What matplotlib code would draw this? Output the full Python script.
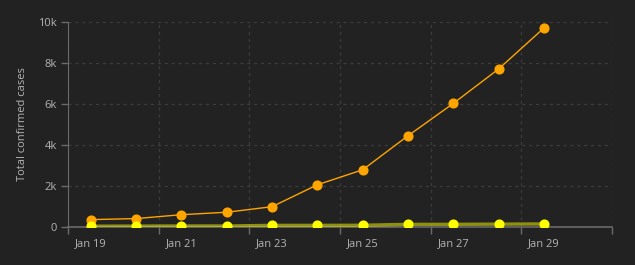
import matplotlib
matplotlib.use("Agg")
import matplotlib.pyplot as plt
from matplotlib.ticker import FixedLocator, FuncFormatter

dates = ["Jan 19", "Jan 20", "Jan 21", "Jan 22", "Jan 23", "Jan 24",
         "Jan 25", "Jan 26", "Jan 27", "Jan 28", "Jan 29"]
confirmed = [360, 410, 600, 720, 990, 2060, 2790, 4450, 6030, 7710, 9710]
other = [40, 45, 50, 50, 80, 80, 85, 130, 130, 140, 150]
y_ticks = [0, 2000, 4000, 6000, 8000, 10000]
y_label = "Total confirmed cases"

BG = "#222222"
TXT = "#b4b4b8"
AX = "#6a6a6a"
GRID = "#3c3c3c"

plt.rcParams['font.family'] = ['Open Sans', 'DejaVu Sans']

fig = plt.figure(figsize=(6.35, 2.65), dpi=100, facecolor=BG)
ax = fig.add_axes([68/635, (265-227)/265, (612-68)/635, (227-22)/265])
ax.set_facecolor(BG)

x = list(range(len(dates)))
ax.plot(x, confirmed, color="#FFA500", lw=1.0, marker="o", ms=6.3,
        mfc="#FFA500", mec="#FFA500", zorder=4)
ax.plot(x, other, color="#FFFF00", lw=2.4, alpha=0.5, zorder=3)
ax.plot(x, other, color="#FFFF00", lw=0, marker="o", ms=6.3,
        mfc="#FFFF00", mec="#FFFF00", zorder=5)

ax.set_xlim(-0.5, len(dates) + 0.5)
ax.set_ylim(0, 10000)

major = [-0.5 + 2*i for i in range(7)]
ax.xaxis.set_major_locator(FixedLocator(major))
ax.xaxis.set_major_formatter(FuncFormatter(lambda v, p: ""))
minor = list(range(0, len(dates), 2))
ax.xaxis.set_minor_locator(FixedLocator(minor))
ax.xaxis.set_minor_formatter(FuncFormatter(lambda v, p: dates[int(round(v))]))
ax.tick_params(axis="x", which="major", length=5, color=AX, width=1)
ax.tick_params(axis="x", which="minor", length=0, pad=8, labelsize=8, labelcolor=TXT)

ax.set_yticks(y_ticks)
ax.yaxis.set_major_formatter(FuncFormatter(lambda v, p: "0" if v == 0 else f"{int(v/1000)}k"))
ax.tick_params(axis="y", length=5, color=AX, width=1, labelsize=8, labelcolor=TXT, pad=3)

ax.grid(True, which="major", axis="both", color=GRID, ls=(0, (2.5, 3)), lw=0.9)

for s in ["top", "right"]:
    ax.spines[s].set_visible(False)
ax.spines["left"].set_color(AX)
ax.spines["bottom"].set_color(AX)
ax.spines["bottom"].set_linewidth(1.2)

ax.set_ylabel(y_label, color=TXT, fontsize=8, labelpad=7)

fig.savefig("out.png", dpi=100, facecolor=BG)
